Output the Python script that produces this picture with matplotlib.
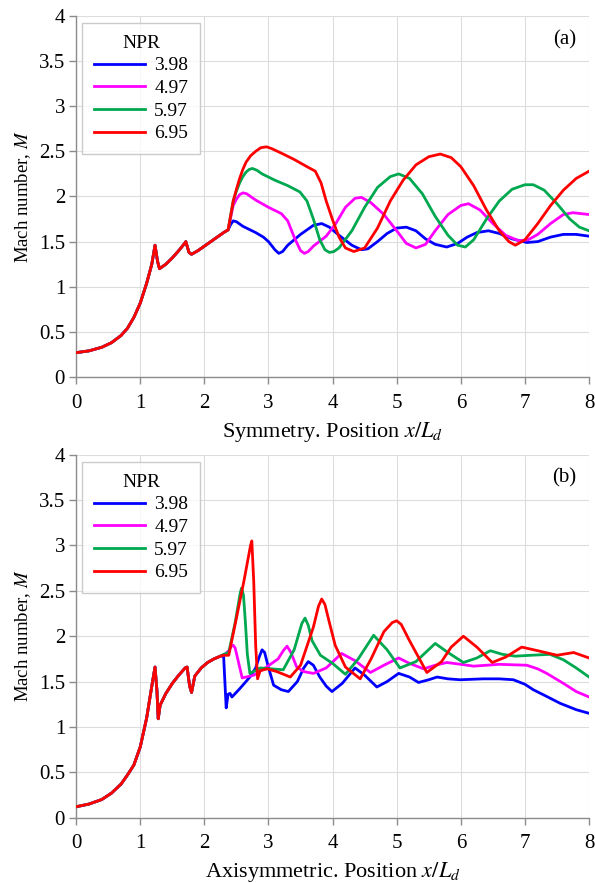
#!/usr/bin/env python3
"""Mach number along the jet axis for four NPR values: symmetric vs axisymmetric."""

import matplotlib
matplotlib.use('Agg')
import matplotlib.pyplot as plt

plt.rcParams['font.family'] = ['Liberation Serif', 'DejaVu Serif']
plt.rcParams['mathtext.fontset'] = 'stix'
plt.rcParams['font.size'] = 14

# ---------------------------------------------------------------------------
# Data
# ---------------------------------------------------------------------------
npr_labels = ['3.98', '4.97', '5.97', '6.95']
line_colors = ['#0000FF', '#FF00FF', '#00A84F', '#FF0000']

# (a) symmetric - shared upstream part
sym_x_common = [0, 0.2, 0.4, 0.55, 0.7, 0.8, 0.9, 1.0, 1.1, 1.18, 1.23, 1.27,
                1.3, 1.4, 1.5, 1.6, 1.68, 1.71, 1.76, 1.8, 1.9, 2.0, 2.1, 2.2,
                2.3, 2.37]
sym_m_common = [0.27, 0.29, 0.33, 0.38, 0.46, 0.54, 0.66, 0.82, 1.04, 1.25,
                1.46, 1.28, 1.20, 1.25, 1.32, 1.40, 1.47, 1.50, 1.38, 1.36,
                1.40, 1.45, 1.50, 1.55, 1.60, 1.63]

sym_x_398 = [2.41, 2.45, 2.5, 2.6, 2.8, 2.92, 3.0, 3.1, 3.16, 3.22, 3.3, 3.5,
             3.7, 3.83, 3.95, 4.1, 4.3, 4.45, 4.55, 4.7, 4.85, 5.0, 5.15, 5.3,
             5.45, 5.6, 5.78, 5.95, 6.1, 6.25, 6.43, 6.6, 6.8, 7.03, 7.2, 7.4,
             7.6, 7.8, 8.0]
sym_m_398 = [1.69, 1.73, 1.72, 1.67, 1.60, 1.55, 1.50, 1.41, 1.37, 1.39, 1.46,
             1.58, 1.68, 1.70, 1.66, 1.57, 1.46, 1.41, 1.42, 1.50, 1.59, 1.65,
             1.66, 1.62, 1.53, 1.47, 1.44, 1.48, 1.55, 1.60, 1.62, 1.59, 1.53,
             1.49, 1.50, 1.55, 1.58, 1.58, 1.56]

sym_x_497 = [2.45, 2.5, 2.55, 2.6, 2.66, 2.8, 3.0, 3.2, 3.3, 3.4, 3.5, 3.56,
             3.62, 3.7, 3.9, 4.05, 4.2, 4.35, 4.45, 4.6, 4.8, 5.0, 5.15, 5.3,
             5.45, 5.6, 5.8, 6.0, 6.12, 6.3, 6.5, 6.7, 6.9, 7.05, 7.2, 7.4,
             7.6, 7.75, 8.0]
sym_m_497 = [1.90, 1.97, 2.02, 2.04, 2.03, 1.96, 1.88, 1.81, 1.73, 1.55, 1.40,
             1.37, 1.39, 1.45, 1.56, 1.70, 1.88, 1.98, 1.99, 1.93, 1.80, 1.62,
             1.48, 1.43, 1.47, 1.62, 1.80, 1.90, 1.92, 1.85, 1.70, 1.57, 1.51,
             1.52, 1.58, 1.70, 1.80, 1.82, 1.80]

sym_x_597 = [2.45, 2.5, 2.55, 2.6, 2.65, 2.7, 2.75, 2.82, 2.9, 3.1, 3.3, 3.49,
             3.6, 3.7, 3.8, 3.88, 3.95, 4.02, 4.1, 4.3, 4.5, 4.7, 4.9, 5.03,
             5.2, 5.4, 5.6, 5.8, 5.95, 6.07, 6.2, 6.4, 6.6, 6.8, 7.0, 7.13,
             7.3, 7.5, 7.7, 7.85, 8.0]
sym_m_597 = [1.95, 2.06, 2.15, 2.22, 2.27, 2.30, 2.31, 2.29, 2.25, 2.18, 2.12,
             2.05, 1.95, 1.75, 1.52, 1.41, 1.38, 1.39, 1.43, 1.62, 1.88, 2.10,
             2.22, 2.25, 2.20, 2.03, 1.78, 1.57, 1.46, 1.44, 1.52, 1.75, 1.95,
             2.08, 2.13, 2.13, 2.07, 1.92, 1.75, 1.66, 1.62]

sym_x_695 = [2.45, 2.5, 2.55, 2.6, 2.65, 2.72, 2.8, 2.88, 2.97, 3.05, 3.2, 3.4,
             3.6, 3.73, 3.82, 3.9, 4.0, 4.1, 4.2, 4.33, 4.5, 4.7, 4.9, 5.1,
             5.3, 5.5, 5.68, 5.85, 6.0, 6.2, 6.4, 6.6, 6.75, 6.85, 7.0, 7.2,
             7.4, 7.6, 7.8, 8.0]
sym_m_695 = [1.95, 2.08, 2.20, 2.30, 2.38, 2.45, 2.50, 2.54, 2.55, 2.53, 2.48,
             2.41, 2.33, 2.28, 2.15, 1.95, 1.74, 1.55, 1.43, 1.39, 1.43, 1.65,
             1.95, 2.18, 2.35, 2.44, 2.47, 2.43, 2.33, 2.12, 1.85, 1.62, 1.50,
             1.46, 1.52, 1.70, 1.90, 2.07, 2.20, 2.28]

# (b) axisymmetric - shared upstream part
axi_x_common = [0, 0.2, 0.4, 0.55, 0.7, 0.8, 0.9, 1.0, 1.1, 1.18, 1.23, 1.26,
                1.28, 1.31, 1.4, 1.5, 1.6, 1.7, 1.73, 1.77, 1.8, 1.85, 1.95,
                2.05, 2.15, 2.25]
axi_m_common = [0.12, 0.15, 0.20, 0.27, 0.37, 0.47, 0.58, 0.78, 1.10, 1.45,
                1.66, 1.40, 1.09, 1.24, 1.37, 1.48, 1.57, 1.65, 1.66, 1.45,
                1.38, 1.56, 1.65, 1.71, 1.75, 1.78]

axi_x_398 = [2.3, 2.34, 2.37, 2.4, 2.43, 2.55, 2.71, 2.8, 2.86, 2.9, 2.94,
             2.99, 3.08, 3.2, 3.31, 3.45, 3.55, 3.62, 3.7, 3.8, 3.9, 3.99,
             4.15, 4.35, 4.5, 4.69, 4.85, 5.03, 5.2, 5.34, 5.5, 5.63, 5.8,
             5.99, 6.35, 6.6, 6.82, 7.0, 7.13, 7.3, 7.55, 7.8, 8.0]
axi_m_398 = [1.78, 1.21, 1.36, 1.37, 1.33, 1.42, 1.55, 1.65, 1.78, 1.85, 1.82,
             1.68, 1.46, 1.41, 1.39, 1.50, 1.65, 1.72, 1.68, 1.55, 1.45, 1.39,
             1.48, 1.65, 1.57, 1.44, 1.50, 1.59, 1.55, 1.49, 1.52, 1.55, 1.53,
             1.52, 1.53, 1.53, 1.52, 1.47, 1.41, 1.35, 1.26, 1.19, 1.15]

axi_x_497 = [2.32, 2.38, 2.42, 2.45, 2.48, 2.52, 2.59, 2.77, 2.97, 3.15, 3.24,
             3.29, 3.35, 3.44, 3.55, 3.70, 3.9, 4.14, 4.35, 4.59, 4.8, 5.03,
             5.2, 5.42, 5.6, 5.78, 6.0, 6.2, 6.6, 7.03, 7.2, 7.34, 7.6, 7.8,
             8.0]
axi_m_497 = [1.80, 1.84, 1.89, 1.90, 1.87, 1.75, 1.54, 1.57, 1.66, 1.75, 1.85,
             1.89, 1.82, 1.66, 1.61, 1.59, 1.65, 1.81, 1.73, 1.60, 1.68, 1.76,
             1.70, 1.64, 1.68, 1.71, 1.69, 1.67, 1.69, 1.68, 1.64, 1.59, 1.48,
             1.39, 1.33]

axi_x_597 = [2.3, 2.38, 2.48, 2.56, 2.58, 2.61, 2.64, 2.67, 2.71, 2.87, 3.05,
             3.23, 3.4, 3.52, 3.57, 3.62, 3.68, 3.81, 4.0, 4.2, 4.4, 4.64,
             4.85, 5.05, 5.3, 5.6, 5.8, 6.04, 6.25, 6.46, 6.65, 6.85, 7.1,
             7.39, 7.6, 7.8, 8.0]
axi_m_597 = [1.80, 1.82, 2.15, 2.48, 2.53, 2.45, 2.15, 1.80, 1.59, 1.65, 1.64,
             1.63, 1.85, 2.14, 2.20, 2.12, 1.95, 1.79, 1.70, 1.58, 1.75, 2.01,
             1.85, 1.65, 1.72, 1.92, 1.82, 1.71, 1.76, 1.84, 1.80, 1.78, 1.79,
             1.80, 1.74, 1.65, 1.55]

axi_x_695 = [2.3, 2.38, 2.5, 2.62, 2.72, 2.74, 2.77, 2.8, 2.83, 2.87, 2.98,
             3.13, 3.34, 3.5, 3.7, 3.78, 3.83, 3.88, 3.95, 4.04, 4.2, 4.43,
             4.6, 4.8, 4.93, 5.0, 5.07, 5.2, 5.47, 5.7, 5.85, 6.04, 6.25, 6.49,
             6.7, 6.95, 7.2, 7.5, 7.76, 8.0]
axi_m_695 = [1.79, 1.79, 2.20, 2.62, 3.00, 3.05, 2.60, 1.90, 1.53, 1.62, 1.64,
             1.61, 1.55, 1.68, 2.10, 2.33, 2.41, 2.35, 2.15, 1.90, 1.66, 1.53,
             1.75, 2.05, 2.15, 2.17, 2.13, 1.95, 1.60, 1.72, 1.88, 2.00, 1.88,
             1.71, 1.77, 1.88, 1.84, 1.79, 1.82, 1.76]

sym_series = [(sym_x_398, sym_m_398), (sym_x_497, sym_m_497),
              (sym_x_597, sym_m_597), (sym_x_695, sym_m_695)]
axi_series = [(axi_x_398, axi_m_398), (axi_x_497, axi_m_497),
              (axi_x_597, axi_m_597), (axi_x_695, axi_m_695)]

# ---------------------------------------------------------------------------
# Plot
# ---------------------------------------------------------------------------
fig = plt.figure(figsize=(5.95, 8.83), dpi=100)
ax_a = fig.add_axes([0.128, 0.573, 0.862, 0.409])
ax_b = fig.add_axes([0.128, 0.074, 0.862, 0.411])

panels = [
    (ax_a, sym_x_common, sym_m_common, sym_series,
     r'Symmetry. Position $x/L_d$', '(a)'),
    (ax_b, axi_x_common, axi_m_common, axi_series,
     r'Axisymmetric. Position $x/L_d$', '(b)'),
]

for ax, xc, mc, series, xlabel, tag in panels:
    for (xs, ms), lab, col in zip(series, npr_labels, line_colors):
        ax.plot(xc + xs, mc + ms, color=col, lw=2, label=lab, zorder=3,
                solid_joinstyle='round')

    ax.set_xlim(0, 8)
    ax.set_ylim(0, 4)
    ax.set_xticks(range(0, 9))
    ax.set_yticks([0, 0.5, 1, 1.5, 2, 2.5, 3, 3.5, 4])
    ax.set_yticklabels(['0', '0.5', '1', '1.5', '2', '2.5', '3', '3.5', '4'])
    ax.grid(True, color='#dcdcdc', lw=0.8, zorder=0)
    ax.set_axisbelow(True)

    for side in ['top', 'right']:
        ax.spines[side].set_visible(False)
    for side in ['left', 'bottom']:
        ax.spines[side].set_color('#8c8c8c')
        ax.spines[side].set_linewidth(1.0)
    ax.tick_params(direction='out', length=5, color='#8c8c8c', width=1.0,
                   labelsize=15)
    ax.tick_params(axis='x', pad=7)
    ax.tick_params(axis='y', pad=3)

    ax.set_xlabel(xlabel, fontsize=16, labelpad=5)
    ax.set_ylabel(r'Mach number, $M$', fontsize=13.5, labelpad=4)

    ax.text(0.975, 0.935, tag, transform=ax.transAxes, ha='right', va='center',
            fontsize=15)

    leg = ax.legend(title='NPR', loc='upper left', fontsize=14,
                    title_fontsize=14, frameon=True, fancybox=False,
                    edgecolor='#bfbfbf', handlelength=2.6, handletextpad=0.5,
                    labelspacing=0.26, borderpad=0.6, borderaxespad=0,
                    bbox_to_anchor=(0.012, 0.98))
    leg.get_frame().set_linewidth(1.0)

fig.savefig('out.png', dpi=100, facecolor='white')
plt.close(fig)
